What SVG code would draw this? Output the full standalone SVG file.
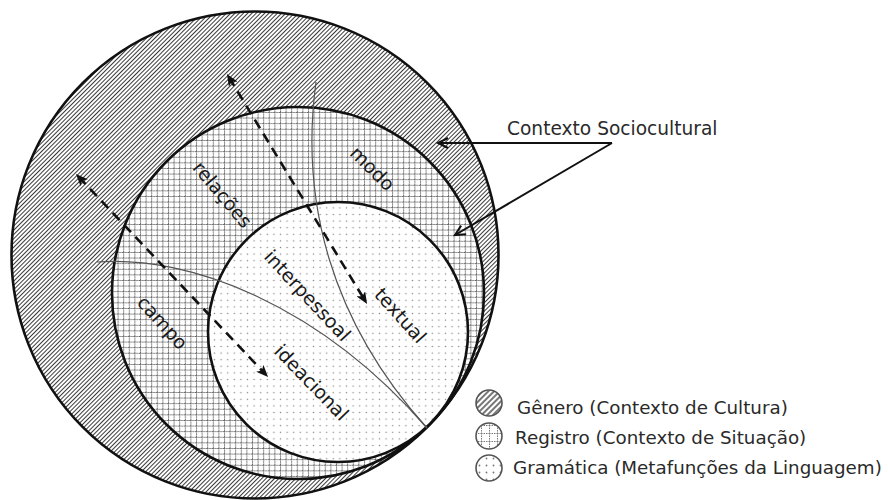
<svg xmlns="http://www.w3.org/2000/svg" width="888" height="500" viewBox="0 0 888 500">
<style>
  .ring { stroke: #111; stroke-width: 2.6; }
  .div { fill: none; stroke: #555; stroke-width: 1.2; }
  .dash { fill: none; stroke: #111; stroke-width: 2.6; stroke-dasharray: 10 6.5; }
  .lab { font-family: "DejaVu Sans", Verdana, sans-serif; font-size: 19px; fill: #1a1a1a; text-anchor: middle; }
  .leg { font-family: "DejaVu Sans", Verdana, sans-serif; font-size: 18.3px; fill: #2a2a2a; }
  .ctx { fill: none; stroke: #111; stroke-width: 2; }
  .icon { stroke: #555; stroke-width: 1.6; }
</style>
<defs>
  <pattern id="hatch" width="3" height="3" patternUnits="userSpaceOnUse" patternTransform="rotate(-45)">
    <rect width="3" height="3" fill="#fff"/>
    <line x1="0" y1="1.5" x2="3" y2="1.5" stroke="#3a3a3a" stroke-width="1.05"/>
  </pattern>
  <pattern id="grid" width="5.6" height="5.6" patternUnits="userSpaceOnUse">
    <rect width="5.6" height="5.6" fill="#fff"/>
    <line x1="0" y1="0.5" x2="5.6" y2="0.5" stroke="#666" stroke-width="1" stroke-dasharray="1.4 0.7"/>
    <line x1="0.5" y1="0" x2="0.5" y2="5.6" stroke="#666" stroke-width="1" stroke-dasharray="1.4 0.7"/>
  </pattern>
  <pattern id="dots" width="6.6" height="6.6" patternUnits="userSpaceOnUse">
    <rect width="6.6" height="6.6" fill="#fff"/>
    <circle cx="3.3" cy="3.3" r="0.75" fill="#888"/>
  </pattern>
  <pattern id="hatchL" width="4" height="4" patternUnits="userSpaceOnUse" patternTransform="rotate(-45)">
    <rect width="4" height="4" fill="#fff"/>
    <line x1="0" y1="2" x2="4" y2="2" stroke="#555" stroke-width="1.6"/>
  </pattern>
  <pattern id="gridL" x="1" y="1" width="8" height="8" patternUnits="userSpaceOnUse">
    <rect width="8" height="8" fill="#fff"/>
    <line x1="0" y1="0.5" x2="8" y2="0.5" stroke="#777" stroke-width="1" stroke-dasharray="1.5 1"/>
    <line x1="0.5" y1="0" x2="0.5" y2="8" stroke="#777" stroke-width="1" stroke-dasharray="1.5 1"/>
  </pattern>
  <pattern id="dotsL" width="7" height="7" patternUnits="userSpaceOnUse">
    <rect width="7" height="7" fill="#fff"/>
    <circle cx="3.5" cy="3.5" r="0.9" fill="#777"/>
  </pattern>
  <marker id="ah" viewBox="0 0 12 10" refX="8" refY="5" markerWidth="12" markerHeight="10" markerUnits="userSpaceOnUse" orient="auto-start-reverse">
    <path d="M0,0 L12,5 L0,10 L3,5 z" fill="#111"/>
  </marker>
  <marker id="chev" viewBox="0 0 12 12" refX="11" refY="6" markerWidth="12" markerHeight="12" markerUnits="userSpaceOnUse" orient="auto" overflow="visible">
    <path d="M1,1 L11,6 L1,11" fill="none" stroke="#111" stroke-width="2"/>
  </marker>
</defs>

<rect width="888" height="500" fill="#fff"/>

<g id="genero">
  <circle class="ring" cx="255" cy="255" r="243.5" fill="url(#hatch)"/>
</g>
<g id="registro">
  <circle class="ring" cx="298" cy="293" r="186" fill="url(#grid)"/>
</g>
<g id="gramatica">
  <circle class="ring" cx="338" cy="332" r="130" fill="url(#dots)"/>
</g>

<g id="connectors">
  <path class="div" d="M97,262 C190,255 320,305 427,428"/>
  <path class="div" d="M316,82 C300,200 330,320 427,428"/>
  <line class="dash" x1="229" y1="77.4" x2="365" y2="300.6" marker-start="url(#ah)" marker-end="url(#ah)"/>
  <line class="dash" x1="78.7" y1="176.9" x2="265.3" y2="374.1" marker-start="url(#ah)" marker-end="url(#ah)"/>
  <line class="ctx" x1="612" y1="143" x2="438" y2="143" marker-end="url(#chev)"/>
  <line class="ctx" x1="612" y1="143" x2="455" y2="235" marker-end="url(#chev)"/>
</g>

<g id="labels">
  <text class="lab" transform="translate(372,169) rotate(45)" y="6">modo</text>
  <text class="lab" transform="translate(222,195) rotate(50)" y="6">relações</text>
  <text class="lab" transform="translate(162,323) rotate(48)" y="6">campo</text>
  <text class="lab" transform="translate(307,296) rotate(47)" y="6">interpessoal</text>
  <text class="lab" transform="translate(400,316) rotate(48)" y="6">textual</text>
  <text class="lab" transform="translate(311,383) rotate(46)" y="6">ideacional</text>
</g>

<g id="contexto">
  <text class="leg" x="507" y="135" style="font-size:18.6px" fill="#333">Contexto Sociocultural</text>
</g>

<g id="legend">
  <circle class="icon" cx="489" cy="403" r="13" fill="url(#hatchL)"/>
  <circle class="icon" cx="489" cy="436" r="13" fill="url(#gridL)"/>
  <circle class="icon" cx="489" cy="468" r="13" fill="url(#dotsL)"/>
  <text class="leg" x="517" y="414">Gênero (Contexto de Cultura)</text>
  <text class="leg" x="515" y="444">Registro (Contexto de Situação)</text>
  <text class="leg" x="513" y="474">Gramática (Metafunções da Linguagem)</text>
</g>
</svg>
